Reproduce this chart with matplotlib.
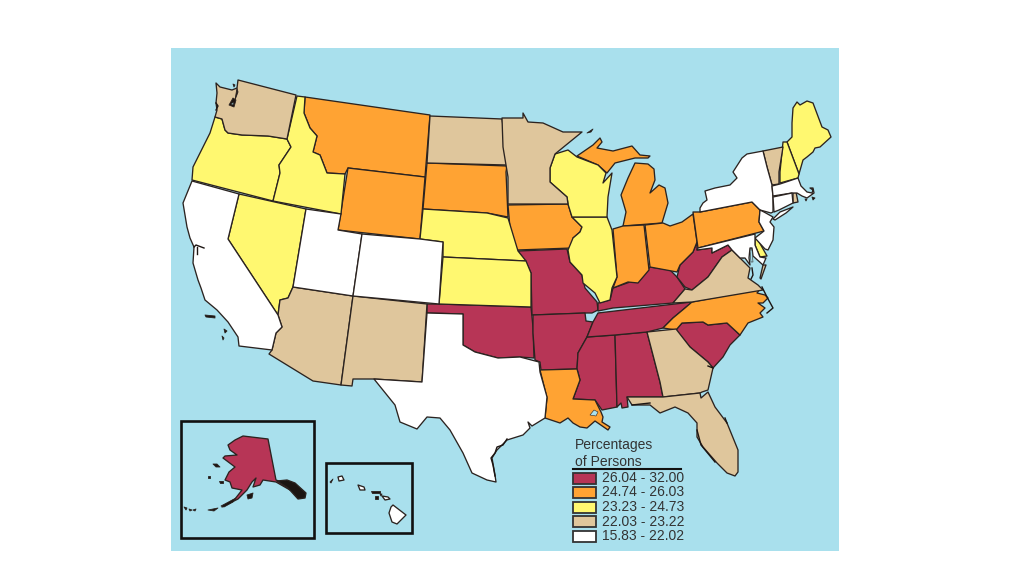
"""Percentages of persons by state: choropleth rebuilt from outlines read off the picture.
Outlines are in picture pixels, x right and y down."""
import matplotlib
matplotlib.use("Agg")
import matplotlib.pyplot as plt
from matplotlib.patches import Rectangle

plt.rcParams["font.family"] = ["Liberation Sans", "DejaVu Sans"]

# class colours, highest to lowest
CLASS_LABELS = ["26.04 - 32.00", "24.74 - 26.03", "23.23 - 24.73", "22.03 - 23.22", "15.83 - 22.02"]
CLASS_COLORS = ["#B73556", "#FFA333", "#FFF870", "#DFC69C", "#FFFFFF"]
SEA = "#A9E0ED"
LINE = "#2B2320"
DARK = "#1C1512"

WA = [(216,83),(220,87),(232,90),(237,88),(238,80),(296,95),(287,139),(268,136),(242,135),(228,133),(225,130),(222,119),(215,117),(217,110),(216,103),(217,93)]
OR = [(215,117),(222,119),(225,130),(228,133),(242,135),(268,136),(287,139),(291,147),(279,165),(280,173),(273,201),(192,180),(193,167),(200,153),(210,133)]
CA = [(192,181),(239,194),(228,239),(278,315),(282,327),(276,333),(272,350),(239,346),(238,337),(228,322),(217,310),(205,300),(201,288),(198,280),(193,263),(194,247),(190,238),(187,227),(183,203)]
NV = [(239,194),(306,209),(293,287),(288,298),(280,300),(278,315),(228,239)]
ID = [(297,96),(305,97),(304,113),(310,128),(317,136),(313,152),(320,155),(327,173),(345,174),(341,214),(273,201),(280,173),(279,165),(291,147),(287,139)]
MT = [(305,97),(430,115),(425,177),(348,168),(345,174),(327,173),(320,155),(313,152),(317,136),(310,128),(304,113)]
WY = [(348,168),(425,177),(420,239),(338,230)]
UT = [(306,209),(341,214),(338,230),(362,234),(353,296),(293,287)]
CO = [(362,234),(420,239),(443,242),(439,304),(353,296)]
AZ = [(293,287),(353,296),(341,385),(313,381),(269,354),(272,350),(276,333),(282,327),(278,315),(280,300),(288,298)]
NM = [(353,296),(427,304),(422,382),(374,379),(353,379),(352,386),(341,385)]
TX = [(427,313),(463,314),(463,345),(475,352),(498,358),(520,357),(539,362),(540,372),(547,397),(545,418),(532,426),(528,422),(530,428),(523,435),(507,440),(497,450),(492,458),(495,475),(496,482),(487,480),(472,473),(463,453),(450,430),(440,418),(427,417),(417,429),(400,422),(395,405),(374,379),(422,382)]
OK = [(427,304),(439,304),(531,307),(533,327),(534,358),(520,357),(498,358),(475,352),(463,345),(463,314),(427,313)]
ND = [(430,116),(502,119),(505,140),(507,165),(427,163)]
SD = [(427,163),(507,166),(506,172),(508,217),(487,213),(423,209)]
NE = [(423,209),(487,213),(508,218),(518,251),(526,261),(443,257),(443,242),(420,239)]
KS = [(443,257),(526,261),(531,273),(531,307),(439,304)]
MN = [(502,118),(523,118),(523,113),(528,122),(543,123),(563,132),(582,132),(555,154),(550,168),(550,182),(567,197),(568,204),(508,204),(508,177),(503,147)]
IA = [(508,205),(568,204),(572,217),(582,227),(580,232),(573,238),(572,248),(517,250),(510,228)]
MO = [(518,251),(567,249),(570,262),(582,275),(585,288),(597,302),(598,310),(592,313),(587,313),(532,315),(531,273),(526,262)]
AR = [(533,315),(585,313),(586,321),(593,322),(587,337),(578,353),(577,369),(541,370),(540,362),(535,360),(533,333)]
LA = [(540,370),(577,369),(580,380),(573,399),(595,400),(601,412),(603,417),(602,422),(610,427),(608,430),(595,421),(587,428),(580,427),(573,423),(568,418),(560,423),(545,418),(547,398)]
MS = [(587,337),(615,335),(617,407),(602,410),(595,400),(573,399),(580,380),(577,369),(578,353)]
AL = [(615,335),(647,332),(660,382),(663,397),(627,397),(628,407),(622,408),(621,403),(617,407)]
TN = [(587,337),(593,322),(598,313),(692,302),(685,308),(673,318),(663,328),(647,332),(615,335)]
KY = [(598,311),(613,308),(673,303),(685,289),(677,277),(670,270),(650,267),(640,280),(630,282),(613,288),(610,300),(598,303)]
IL = [(572,217),(607,217),(612,230),(617,277),(612,288),(610,300),(600,303),(595,293),(583,283),(582,275),(570,262),(568,250),(573,238),(580,232),(582,227)]
WI = [(555,154),(568,150),(577,157),(598,165),(606,173),(603,183),(612,173),(608,197),(607,217),(572,217),(568,204),(567,197),(550,182),(550,168)]
MI_U = [(577,156),(593,145),(600,138),(602,142),(597,148),(613,151),(632,146),(640,155),(650,156),(648,158),(635,158),(615,163),(607,173),(598,165)]
MI_L = [(635,163),(648,164),(654,169),(655,180),(650,193),(659,185),(665,188),(668,203),(662,223),(623,226),(626,212),(621,195),(628,178)]
IN = [(613,229),(623,226),(644,225),(649,270),(638,283),(628,282),(613,288),(617,277)]
OH = [(645,225),(663,223),(670,226),(682,222),(693,214),(697,242),(693,252),(680,265),(677,272),(650,267)]
PA = [(693,212),(700,212),(752,202),(760,210),(759,222),(764,231),(698,248)]
WV = [(697,242),(697,250),(712,248),(712,253),(728,245),(732,250),(722,257),(715,267),(708,277),(692,290),(685,287),(677,277),(680,265),(693,252)]
VA = [(673,303),(685,289),(692,290),(708,277),(715,267),(722,257),(732,250),(737,255),(740,258),(750,268),(748,278),(758,285),(763,290),(692,302)]
MD = [(697,250),(698,248),(755,234),(755,245),(760,257),(766,258),(763,265),(753,256),(752,248),(750,248),(749,258),(750,265),(745,258),(740,258),(737,255),(732,250),(728,245),(712,253),(712,248)]
DC = [(743,250),(747,254),(743,258),(739,254)]
DE = [(755,238),(758,240),(767,256),(760,257),(755,245)]
VA_SHORE = [(763,265),(766,265),(761,279),(760,278)]
NJ = [(764,212),(773,217),(770,222),(774,227),(773,240),(768,250),(765,249),(755,238),(764,231),(759,222),(760,210)]
NY = [(700,208),(703,203),(707,200),(705,191),(715,188),(730,185),(737,178),(733,172),(742,158),(747,154),(763,151),(767,167),(772,185),(773,198),(773,212),(771,213),(760,210),(752,202),(700,212)]
LI = [(773,219),(780,212),(793,207),(786,213),(775,220)]
VT = [(763,151),(783,147),(779,172),(779,184),(772,185),(767,167)]
NH = [(783,142),(787,142),(799,174),(798,178),(780,183),(780,172)]
ME = [(787,142),(792,137),(792,123),(793,108),(797,102),(800,105),(807,101),(813,103),(822,127),(828,130),(831,137),(820,147),(815,148),(813,152),(807,157),(803,160),(799,174)]
MA = [(772,186),(780,184),(798,178),(801,186),(807,192),(812,193),(813,190),(810,188),(813,188),(814,193),(807,198),(802,196),(797,193),(792,193),(773,196)]
CT = [(773,197),(792,193),(793,203),(779,210),(774,212)]
RI = [(793,193),(796,192),(798,202),(793,203)]
NC = [(692,302),(760,289),(757,293),(765,295),(768,298),(763,303),(758,303),(765,308),(760,313),(763,317),(748,323),(740,335),(727,323),(708,325),(703,322),(682,323),(676,330),(663,328),(673,318),(685,308)]
SC = [(676,330),(682,323),(703,322),(708,325),(727,323),(740,335),(730,345),(723,357),(713,368),(708,362),(690,347)]
GA = [(647,332),(676,329),(690,347),(708,362),(713,368),(708,390),(702,392),(700,393),(663,397),(660,382)]
FL = [(627,397),(663,397),(700,393),(701,398),(708,392),(715,407),(727,423),(738,450),(738,472),(735,476),(727,473),(717,463),(703,447),(697,437),(697,423),(688,413),(675,407),(660,413),(650,405),(632,405)]
AK = [(228,445),(235,440),(243,436),(268,439),(276,480),(287,484),(290,490),(276,482),(263,480),(260,485),(253,487),(256,478),(252,482),(247,490),(238,499),(222,507),(235,499),(242,490),(232,488),(230,482),(225,480),(229,472),(235,467),(223,458),(225,456),(237,455),(230,450)]
AK_SE = [(287,480),(295,483),(306,493),(305,498),(298,499),(288,488),(277,481)]
AK_ISLES = [[(247,495),(253,493),(252,498),(248,499)],[(219,481),(223,481),(223,483),(220,483)],[(213,464),(217,464),(220,467),(216,467)],[(208,476),(210,476),(210,478),(208,478)],[(208,510),(218,508),(214,511)],[(184,507),(187,508),(186,510)],[(189,509),(192,510),(190,511)],[(193,510),(196,509),(195,511)],[(221,506),(236,498),(233,502),(224,507)]]
HI_BIG = [(391,507),(393,505),(406,515),(397,524),(392,522),(389,513)]
HI_MAUI = [(382,496),(388,497),(390,499),(385,500)]
HI_OAHU = [(358,485),(364,487),(365,490),(360,490)]
HI_KAUAI = [(338,477),(342,476),(344,480),(339,481)]
HI_DARK = [[(330,482),(333,479),(331,483)],[(371,491),(380,491),(380,493),(372,493)],[(375,496),(378,496),(378,499),(375,499)],[(380,494),(382,494),(381,496)]]
COAST_ISLES = [[(205,315),(215,316),(215,318),(206,317)],[(224,329),(227,331),(225,333)],[(222,336),(224,338),(223,340)],[(805,199),(807,199),(806,201)],[(812,197),(815,198),(813,200)],[(587,133),(593,129),(591,132)],[(233,84),(235,85),(234,87)]]
# bays and thick stretches of coast, as dark lines
PUGET = [[(237,88),(238,92),(235,100)],[(233,98),(229,105),(234,107),(236,100)]]
WATER = [[(590,415),(594,410),(598,412),(596,416)],[(750,250),(752,250),(753,262),(751,262)],[(231,104),(234,102),(233,105)]]
COAST_DARK = [
    [(194,247),(196,245),(204,248)],
    [(197,247),(197,254)],
    [(216,103),(218,106),(216,110)],
    [(507,439),(503,445),(497,447),(495,453),(491,458),(493,465),(495,476)],
    [(762,287),(767,297),(773,308),(767,313)],
    [(725,418),(727,423)],
    [(697,430),(701,445),(715,462)],
    [(632,405),(650,403)],
    [(708,366),(713,368)],
    [(752,268),(753,275),(751,279)],
]

CLASS_STATES = [
    [OK, MO, AR, MS, AL, TN, KY, WV, SC, AK],
    [MT, WY, SD, IA, LA, MI_U, MI_L, IN, OH, PA, NC],
    [OR, ID, NV, NE, KS, IL, WI, ME, NH, DE, DC],
    [WA, AZ, NM, ND, MN, VA, VT, RI, GA, FL, VA_SHORE],
    [CA, UT, CO, TX, NY, NJ, MA, CT, MD, LI, HI_BIG, HI_MAUI, HI_OAHU, HI_KAUAI],
]


def fill(ax, pts, color, lw=0.95):
    xs, ys = zip(*pts)
    ax.fill(xs, ys, facecolor=color, edgecolor=LINE, lw=lw, joinstyle="round")


def main():
    fig = plt.figure(figsize=(10.13, 5.81), dpi=100)
    ax = fig.add_axes([0, 0, 1, 1])
    ax.set_xlim(0, 1013)
    ax.set_ylim(581, 0)
    ax.axis("off")
    ax.add_patch(Rectangle((171, 48), 668, 503, facecolor=SEA, edgecolor="none"))

    for states, color in zip(CLASS_STATES, CLASS_COLORS):
        for pts in states:
            fill(ax, pts, color)

    for pts in PUGET:
        fill(ax, pts, DARK, lw=0.6)
    fill(ax, AK_SE, DARK)
    for pts in AK_ISLES + HI_DARK + COAST_ISLES:
        fill(ax, pts, DARK, lw=0.6)
    for pts in WATER:
        fill(ax, pts, SEA, lw=0.4)
    for pts in COAST_DARK:
        xs, ys = zip(*pts)
        ax.plot(xs, ys, color=DARK, lw=1.0)

    # insets
    ax.add_patch(Rectangle((181, 421), 133, 117, fill=False, edgecolor="#111111", lw=1.9))
    ax.add_patch(Rectangle((326, 463), 86, 70, fill=False, edgecolor="#111111", lw=1.9))

    # legend
    ax.text(575, 445, "Percentages", fontsize=10, color="#333333", va="center")
    ax.text(575, 462, "of Persons", fontsize=10, color="#333333", va="center")
    ax.plot([573, 681], [469, 469], color="#111111", lw=1.5)
    for i, (label, color) in enumerate(zip(CLASS_LABELS, CLASS_COLORS)):
        top = 472.5 + i * 14.5
        ax.add_patch(Rectangle((573, top), 23, 11, facecolor=color, edgecolor="#333333", lw=1.3))
        ax.text(602, top + 5.5, label, fontsize=10, color="#333333", va="center")

    fig.savefig("out.png", dpi=100)


if __name__ == "__main__":
    main()
